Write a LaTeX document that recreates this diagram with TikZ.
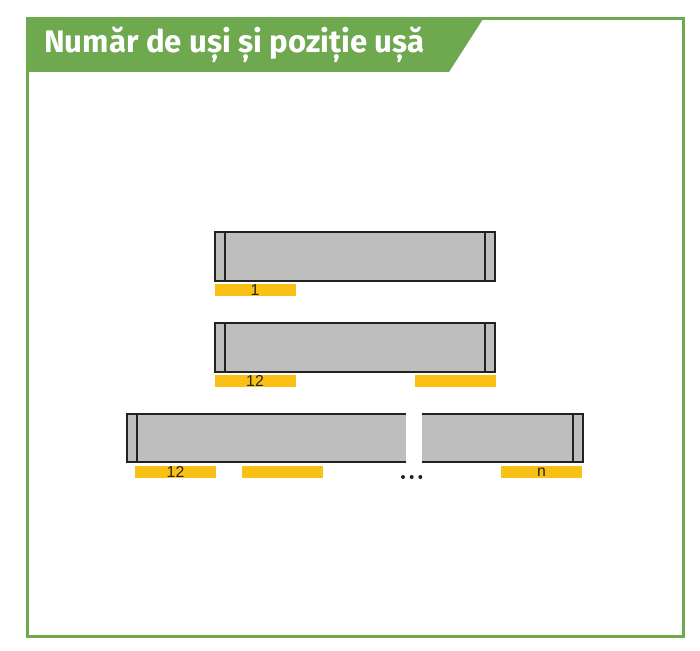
\documentclass[tikz,border=0pt]{standalone}
\usepackage{fontspec}
\setmainfont{Liberation Sans}
\newfontfamily\titlefont{Fira Sans}
\definecolor{framegreen}{HTML}{6EA84F}
\definecolor{boxgray}{HTML}{BEBEBE}
\definecolor{baryellow}{HTML}{F9C116}
\definecolor{edge}{HTML}{222222}

\begin{document}
\begin{tikzpicture}
[
	x=0.03cm,y=-0.03cm,
	cont/.style={rectangle,draw=edge,fill=boxgray,line width=0.06cm,minimum height=1.44cm,inner sep=0},
	strip/.style={draw=edge,line width=0.06cm},
	bar/.style={rectangle,fill=baryellow,minimum width=2.43cm,minimum height=0.36cm,inner sep=0,font=\fontsize{13.5}{13.5}\selectfont,text=edge}
]

\useasboundingbox (0,0) rectangle (700,651);

% frame and header
\fill[framegreen] (27,19) -- (483,19) -- (449,72) -- (27,72) -- cycle;
\draw[framegreen,line width=0.09cm] (27,19) rectangle (683,636);
\node[anchor=base west,inner sep=0,text=white,font=\titlefont\bfseries\fontsize{26.6}{26.6}\selectfont] (title) at (44,53) {Număr de uși și poziție ușă};

% one door
\node[cont,minimum width=8.4cm] (c1) at (355,256.5) {};
\draw[strip] ([xshift=0.32cm]c1.north west) -- ([xshift=0.32cm]c1.south west);
\draw[strip] ([xshift=-0.32cm]c1.north east) -- ([xshift=-0.32cm]c1.south east);
\node[bar] (b1) at (255,290) {1};

% two doors
\node[cont,minimum width=8.4cm] (c2) at (355,347.5) {};
\draw[strip] ([xshift=0.32cm]c2.north west) -- ([xshift=0.32cm]c2.south west);
\draw[strip] ([xshift=-0.32cm]c2.north east) -- ([xshift=-0.32cm]c2.south east);
\node[bar] (b2) at (255,381) {12};
\node[bar] (b3) at (455,381) {};

% n doors
\node[cont,minimum width=13.68cm] (c3) at (355,438) {};
\draw[strip] ([xshift=0.32cm]c3.north west) -- ([xshift=0.32cm]c3.south west);
\draw[strip] ([xshift=-0.32cm]c3.north east) -- ([xshift=-0.32cm]c3.south east);
\fill[white] (405.7,410) rectangle (421.7,466);
\node[bar] (b4) at (175.5,472) {12};
\node[bar] (b5) at (282,472) {};
\node[bar] (b6) at (541.5,472) {n};

\foreach \x in {403,411.7,420.3}
	\fill[edge] (\x,477) circle (0.06cm);

\end{tikzpicture}
\end{document}
